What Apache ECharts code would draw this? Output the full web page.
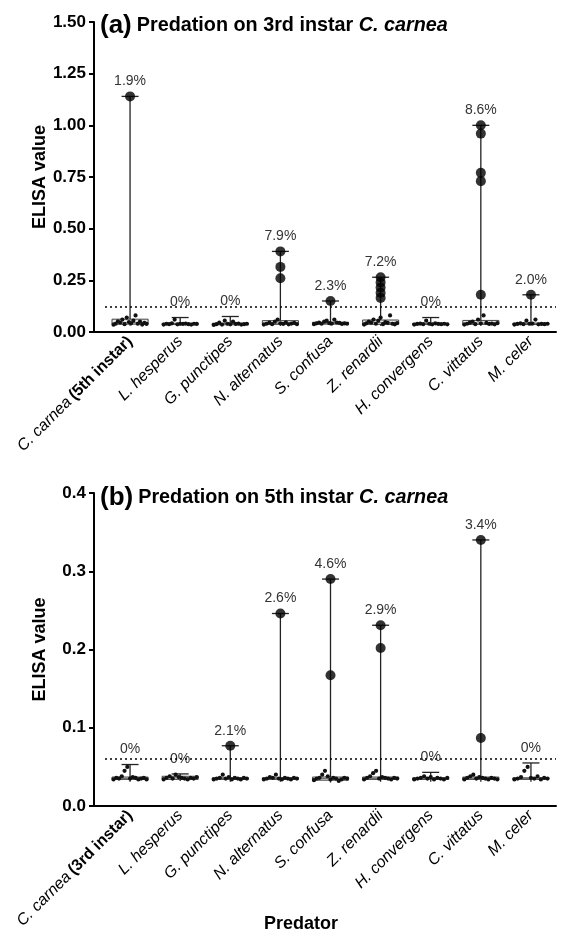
<!DOCTYPE html>
<html>
<head>
<meta charset="utf-8">
<script src="https://cdn.jsdelivr.net/npm/echarts@6/dist/echarts.min.js"></script>
<style>
  html, body { margin: 0; padding: 0; background: #fff; }
  #chart { width: 565px; height: 945px; }
</style>
</head>
<body>
<div id="chart"></div>
<script>
// predators on the x axis (same order in both panels)
var predators = ['C. carnea', 'L. hesperus', 'G. punctipes', 'N. alternatus', 'S. confusa',
  'Z. renardii', 'H. convergens', 'C. vittatus', 'M. celer'];

// panel (a): 3rd instar prey
var boxesA = [ // min, q1, median, q3, max
  [0.030, 0.038, 0.045, 0.062, 1.14],
  [0.032, 0.036, 0.039, 0.042, 0.070],
  [0.030, 0.035, 0.038, 0.042, 0.075],
  [0.030, 0.037, 0.043, 0.055, 0.39],
  [0.032, 0.038, 0.042, 0.047, 0.15],
  [0.030, 0.037, 0.045, 0.058, 0.265],
  [0.030, 0.036, 0.039, 0.042, 0.070],
  [0.030, 0.037, 0.043, 0.056, 1.00],
  [0.032, 0.036, 0.039, 0.043, 0.18]
];
var positivesA = [[1.14], [], [], [0.39, 0.315, 0.26], [0.15],
  [0.265, 0.24, 0.215, 0.19, 0.165], [], [1.00, 0.96, 0.77, 0.73, 0.18], [0.18]];
var negativesA = [
  [0.035, 0.040, 0.052, 0.045, 0.060, 0.038, 0.070, 0.048, 0.042, 0.055, 0.080, 0.040, 0.050, 0.036, 0.044, 0.039],
  [0.036, 0.040, 0.038, 0.042, 0.060, 0.037, 0.040, 0.039, 0.041, 0.038, 0.036, 0.040, 0.039],
  [0.034, 0.038, 0.045, 0.036, 0.055, 0.040, 0.037, 0.050, 0.039, 0.041, 0.036, 0.038, 0.040],
  [0.036, 0.040, 0.045, 0.038, 0.050, 0.060, 0.042, 0.039, 0.047, 0.037, 0.041, 0.044, 0.038],
  [0.038, 0.042, 0.045, 0.040, 0.050, 0.055, 0.043, 0.041, 0.060, 0.046, 0.044, 0.039, 0.042, 0.040],
  [0.036, 0.042, 0.050, 0.045, 0.060, 0.040, 0.055, 0.070, 0.038, 0.048, 0.044, 0.080, 0.040, 0.037, 0.043],
  [0.036, 0.039, 0.041, 0.038, 0.055, 0.040, 0.037, 0.042, 0.039, 0.038, 0.040, 0.037],
  [0.036, 0.040, 0.045, 0.050, 0.038, 0.060, 0.042, 0.080, 0.044, 0.039, 0.041, 0.037, 0.043],
  [0.036, 0.039, 0.042, 0.038, 0.055, 0.040, 0.041, 0.060, 0.037, 0.039, 0.038, 0.040]
];
var pctA = ['1.9%', '0%', '0%', '7.9%', '2.3%', '7.2%', '0%', '8.6%', '2.0%'];
var cutoffA = 0.115;

// panel (b): 5th instar prey
var boxesB = [
  [0.031, 0.034, 0.035, 0.037, 0.053],
  [0.032, 0.034, 0.036, 0.038, 0.041],
  [0.031, 0.034, 0.035, 0.036, 0.077],
  [0.031, 0.034, 0.035, 0.036, 0.246],
  [0.030, 0.033, 0.035, 0.037, 0.29],
  [0.031, 0.034, 0.035, 0.037, 0.231],
  [0.031, 0.034, 0.035, 0.036, 0.043],
  [0.031, 0.034, 0.035, 0.037, 0.34],
  [0.031, 0.034, 0.035, 0.036, 0.055]
];
var positivesB = [[], [], [0.077], [0.246], [0.29, 0.167], [0.231, 0.202], [], [0.34, 0.087], []];
var negativesB = [
  [0.034, 0.036, 0.035, 0.038, 0.045, 0.050, 0.035, 0.037, 0.036, 0.034, 0.035, 0.036, 0.034],
  [0.034, 0.036, 0.038, 0.035, 0.040, 0.037, 0.036, 0.035, 0.034, 0.036, 0.035, 0.037],
  [0.034, 0.035, 0.036, 0.040, 0.035, 0.037, 0.034, 0.036, 0.035, 0.034, 0.036, 0.035],
  [0.034, 0.035, 0.037, 0.036, 0.040, 0.035, 0.034, 0.036, 0.035, 0.034, 0.036, 0.035],
  [0.033, 0.035, 0.036, 0.040, 0.045, 0.038, 0.034, 0.036, 0.035, 0.032, 0.034, 0.036, 0.035],
  [0.034, 0.036, 0.038, 0.042, 0.045, 0.035, 0.037, 0.036, 0.035, 0.034, 0.036, 0.035],
  [0.034, 0.035, 0.036, 0.038, 0.035, 0.037, 0.034, 0.036, 0.035, 0.034, 0.036],
  [0.034, 0.036, 0.038, 0.040, 0.035, 0.037, 0.036, 0.035, 0.034, 0.036, 0.035, 0.034],
  [0.034, 0.035, 0.037, 0.045, 0.050, 0.036, 0.035, 0.038, 0.034, 0.036, 0.035]
];
var pctB = ['0%', '0%', '2.1%', '2.6%', '4.6%', '2.9%', '0%', '3.4%', '0%'];
var cutoffB = 0.057;

var FONT = 'Liberation Sans, Arial, sans-serif';

function boxData(boxes, pct) {
  return boxes.map(function (b, i) { return [i].concat(b).concat([pct[i]]); });
}
function pointData(groups) {
  var out = [];
  groups.forEach(function (g, i) { g.forEach(function (v) { out.push([i, v]); }); });
  return out;
}
// small dots spread across the box width (slot goes -1..1)
function swarmData(groups) {
  var out = [];
  groups.forEach(function (g, i) {
    var n = g.length;
    g.forEach(function (v, k) {
      var slot = n > 1 ? (k / (n - 1)) * 2 - 1 : 0;
      out.push([i, v, slot]);
    });
  });
  return out;
}

function renderBox(params, api) {
  var x = api.value(0);
  var pMin = api.coord([x, api.value(1)]);
  var pQ1 = api.coord([x, api.value(2)]);
  var pMed = api.coord([x, api.value(3)]);
  var pQ3 = api.coord([x, api.value(4)]);
  var pMax = api.coord([x, api.value(5)]);
  var bw = api.size([1, 0])[0] * 0.72;
  var cap = 17;
  var stroke = '#222';
  return {
    type: 'group',
    children: [
      { type: 'rect', shape: { x: pQ1[0] - bw / 2, y: pQ3[1], width: bw, height: Math.max(pQ1[1] - pQ3[1], 1) },
        style: { fill: '#e6e6e6', stroke: '#444', lineWidth: 1 } },
      { type: 'line', shape: { x1: pMed[0] - bw / 2, y1: pMed[1], x2: pMed[0] + bw / 2, y2: pMed[1] },
        style: { stroke: '#666', lineWidth: 1 } },
      { type: 'line', shape: { x1: pQ3[0], y1: pQ3[1], x2: pMax[0], y2: pMax[1] },
        style: { stroke: stroke, lineWidth: 1.3 } },
      { type: 'line', shape: { x1: pQ1[0], y1: pQ1[1], x2: pMin[0], y2: pMin[1] },
        style: { stroke: stroke, lineWidth: 1.3 } },
      { type: 'line', shape: { x1: pMax[0] - cap / 2, y1: pMax[1], x2: pMax[0] + cap / 2, y2: pMax[1] },
        style: { stroke: stroke, lineWidth: 1.3 } },
      { type: 'text', x: pMax[0], y: pMax[1] - 8,
        style: { text: api.value(6), fill: '#333', font: '14px ' + FONT, align: 'center', verticalAlign: 'bottom' } }
    ]
  };
}

function renderSwarm(params, api) {
  var p = api.coord([api.value(0), api.value(1)]);
  var bw = api.size([1, 0])[0] * 0.66;
  return {
    type: 'circle',
    shape: { cx: p[0] + api.value(2) * bw / 2, cy: p[1], r: 2.1 },
    style: { fill: '#111' }
  };
}

function xAxisFor(gi, first) {
  return {
    type: 'category', gridIndex: gi, data: predators,
    axisLine: { lineStyle: { color: '#000', width: 2 } },
    axisTick: { alignWithLabel: true, length: 5, lineStyle: { color: '#000', width: 2 } },
    axisLabel: {
      rotate: 45, margin: 7, interval: 0, color: '#000',
      formatter: function (v, i) {
        return i === 0 ? '{it|' + v + '} {bd|' + first + '}' : '{it|' + v + '}';
      },
      rich: {
        it: { fontFamily: FONT, fontStyle: 'italic', fontSize: 16, color: '#000' },
        bd: { fontFamily: FONT, fontWeight: 'bold', fontSize: 16, color: '#000' }
      }
    }
  };
}

function yAxisFor(gi, max, interval, dec) {
  return {
    type: 'value', gridIndex: gi, min: 0, max: max, interval: interval, offset: 11,
    name: 'ELISA value', nameLocation: 'middle', nameGap: 45, nameMoveOverlap: false,
    nameTextStyle: { fontFamily: FONT, fontWeight: 'bold', fontSize: 18, color: '#000' },
    splitLine: { show: false },
    axisLine: { show: true, lineStyle: { color: '#000', width: 2 } },
    axisTick: { show: true, length: 5, lineStyle: { color: '#000', width: 2 } },
    axisLabel: { fontFamily: FONT, fontWeight: 'bold', fontSize: 17, color: '#000', margin: 8,
      formatter: function (v) { return v.toFixed(dec); } }
  };
}

function panelSeries(gi, boxes, pct, positives, negatives, cutoff) {
  return [
    { type: 'custom', xAxisIndex: gi, yAxisIndex: gi, renderItem: renderBox,
      data: boxData(boxes, pct), z: 2, silent: true },
    { type: 'custom', xAxisIndex: gi, yAxisIndex: gi, renderItem: renderSwarm,
      data: swarmData(negatives), z: 3, silent: true },
    { type: 'scatter', xAxisIndex: gi, yAxisIndex: gi, data: pointData(positives),
      symbolSize: 10, itemStyle: { color: '#000' }, z: 4, silent: true,
      markLine: { silent: true, symbol: 'none', label: { show: false },
        lineStyle: { type: [2, 3], color: '#000', width: 1.6 },
        data: [{ yAxis: cutoff }] } }
  ];
}

var titleRich = {
  a: { fontFamily: FONT, fontWeight: 'bold', fontSize: 26, color: '#000' },
  t: { fontFamily: FONT, fontWeight: 'bold', fontSize: 19.8, color: '#000' },
  ti: { fontFamily: FONT, fontWeight: 'bold', fontStyle: 'italic', fontSize: 19.8, color: '#000' }
};

var chart = echarts.init(document.getElementById('chart'));
chart.setOption({
  backgroundColor: '#fff',
  animation: false,
  title: [
    { left: 95, top: 8,
      text: '{a|(a)} {t|Predation on 3rd instar }{ti|C. carnea}',
      textStyle: { rich: titleRich } },
    { left: 95, top: 480,
      text: '{a|(b)} {t|Predation on 5th instar }{ti|C. carnea}',
      textStyle: { rich: titleRich } },
    { left: 259, top: 910, text: 'Predator',
      textStyle: { fontFamily: FONT, fontWeight: 'bold', fontSize: 18, color: '#000' } }
  ],
  grid: [
    { left: 105, right: 9, top: 22, height: 310 },
    { left: 105, right: 9, top: 493, height: 313 }
  ],
  graphic: [
    { type: 'line', shape: { x1: 94, y1: 332, x2: 106, y2: 332 }, style: { stroke: '#000', lineWidth: 2 } },
    { type: 'line', shape: { x1: 94, y1: 806, x2: 106, y2: 806 }, style: { stroke: '#000', lineWidth: 2 } }
  ],
  xAxis: [xAxisFor(0, '(5th instar)'), xAxisFor(1, '(3rd instar)')],
  yAxis: [yAxisFor(0, 1.5, 0.25, 2), yAxisFor(1, 0.4, 0.1, 1)],
  series: panelSeries(0, boxesA, pctA, positivesA, negativesA, cutoffA)
    .concat(panelSeries(1, boxesB, pctB, positivesB, negativesB, cutoffB))
});
</script>
</body>
</html>
